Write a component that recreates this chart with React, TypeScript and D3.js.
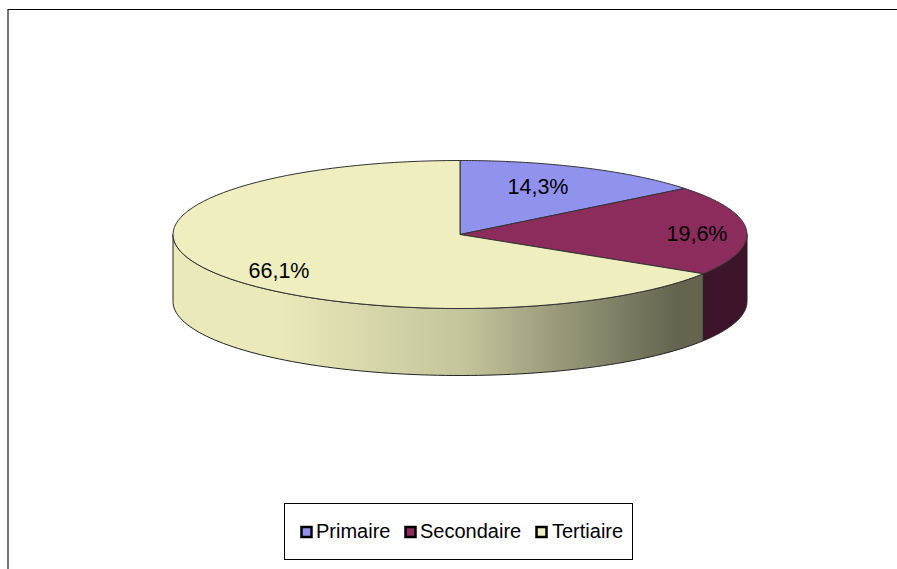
import React from "react";
import * as d3 from "d3";

const categories = ["Primaire", "Secondaire", "Tertiaire"];
const shares = [14.3, 19.6, 66.1];
const shareLabels = ["14,3%", "19,6%", "66,1%"];
const topColours = ["#9191ee", "#8b2c5c", "#eeeebf"];
const sideColours = ["#4a4a7a", "#3d1429", "#eeeebf"];
const labelAnchors = [
  [538, 187],
  [697, 234],
  [279, 271],
];
const legendSwatchX = [302, 406, 537];
const legendTextX = [316, 420, 552];

const cx = 460;
const cy = 234.5;
const rx = 287;
const ry = 74;
const depth = 67;

// Parametric angle, clockwise from twelve o'clock, onto the tilted ellipse.
const px = (a: number) => cx + rx * Math.sin(a);
const py = (a: number) => cy - ry * Math.cos(a);

const arcPath = (a0: number, a1: number, dy = 0, move = true) => {
  const n = 90;
  const pts = d3.range(n + 1).map((i) => {
    const a = a0 + ((a1 - a0) * i) / n;
    return [px(a), py(a) + dy] as [number, number];
  });
  const line = d3.line()(pts) as string;
  return move ? line : "L" + line.slice(1);
};

export default function App() {
  const slices = d3
    .pie<number>()
    .sort(null)
    .value((d) => d)(shares);

  // The visible rim covers the front half of the disc only.
  const rim = (a0: number, a1: number) => {
    const s = Math.max(a0, Math.PI / 2);
    const e = Math.min(a1, (3 * Math.PI) / 2);
    if (e <= s) return null;
    return `${arcPath(s, e)}${arcPath(e, s, depth, false)}Z`;
  };

  return (
    <svg
      width={897}
      height={569}
      style={{ position: "absolute", left: 0, top: 0, background: "#fff" }}
      fontFamily="Liberation Sans, Arial, sans-serif"
    >
      <defs>
        <linearGradient id="tertiaireRim" gradientUnits="userSpaceOnUse" x1={173} x2={703} y1={0} y2={0}>
          <stop offset="0" stopColor="#e9e9ba" />
          <stop offset="0.2" stopColor="#e9e9ba" />
          <stop offset="0.55" stopColor="#c4c49c" />
          <stop offset="0.8" stopColor="#88886c" />
          <stop offset="0.95" stopColor="#65654f" />
          <stop offset="1" stopColor="#65654f" />
        </linearGradient>
      </defs>

      <line x1={8} x2={8} y1={9} y2={569} stroke="#777" strokeWidth={2} />
      <line x1={8} x2={897} y1={9.5} y2={9.5} stroke="#000" strokeWidth={1} />

      {slices.map((s, i) => {
        const d = rim(s.startAngle, s.endAngle);
        return d ? (
          <path
            key={categories[i]}
            d={d}
            fill={i === 2 ? "url(#tertiaireRim)" : sideColours[i]}
            stroke="#222"
            strokeWidth={1}
            strokeLinejoin="round"
          />
        ) : null;
      })}

      {slices.map((s, i) => (
        <path
          key={categories[i]}
          d={`M${cx} ${cy}${arcPath(s.startAngle, s.endAngle, 0, false)}Z`}
          fill={topColours[i]}
          stroke="#333"
          strokeWidth={1}
          strokeLinejoin="round"
        />
      ))}

      {shareLabels.map((t, i) => (
        <text
          key={t}
          x={labelAnchors[i][0]}
          y={labelAnchors[i][1]}
          textAnchor="middle"
          dominantBaseline="central"
          fontSize={21.5}
          fill="#000"
        >
          {t}
        </text>
      ))}

      <rect x={284.5} y={503.5} width={348} height={56} fill="#fff" stroke="#000" />
      {categories.map((c, i) => (
        <g key={c}>
          <rect
            x={legendSwatchX[i] - 0.5}
            y={527}
            width={10}
            height={10}
            fill={topColours[i]}
            stroke="#000"
            strokeWidth={2.5}
          />
          <text x={legendTextX[i]} y={538} fontSize={20} fill="#000">
            {c}
          </text>
        </g>
      ))}
    </svg>
  );
}
